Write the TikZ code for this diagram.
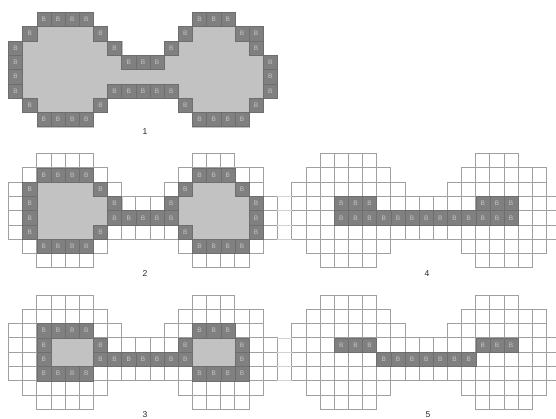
\documentclass[tikz,border=0pt]{standalone}
\usepackage{fontspec}
\setmainfont{Liberation Sans}
\definecolor{lightfill}{HTML}{C2C2C2}
\definecolor{darkfill}{HTML}{808080}
\definecolor{darkedge}{HTML}{6E6E6E}
\definecolor{gridc}{HTML}{A0A0A0}
\definecolor{btext}{HTML}{C6C6C6}
\definecolor{faintc}{HTML}{D2D2D2}
\def\cw{14.15}
\def\ch{14.3}
\def\Srows{0/2/5,0/13/15,1/1/6,1/12/17,2/0/7,2/11/17,3/0/18,4/0/18,5/0/18,6/1/6,6/12/17,7/2/5,7/13/16}
\tikzset{
  whitecell/.style={fill=white, draw=gridc, line width=0.9pt},
  grayreg/.style={fill=lightfill, draw=lightfill, line width=0.3pt},
  darkcell/.style={fill=darkfill, draw=darkedge, line width=0.5pt},
  blabel/.style={text=btext, font=\fontsize{6.5}{6.5}\selectfont, inner sep=0pt},
  panellabel/.style={font=\fontsize{8.5}{8.5}\selectfont, text=black!85, inner sep=0pt},
  faintline/.style={draw=faintc, line width=0.8pt},
}
\newcommand\regionrun[3]{%
  \foreach \r/\a/\b in {#3} {%
    \path[grayreg] ({#1+\a*\cw},{#2+\r*\ch}) rectangle ({#1+(\b+1)*\cw},{#2+(\r+1)*\ch});
  }}
\newcommand\darkrun[4]{%
  \foreach \r/\a/\b in {#3} {%
    \foreach \c in {\a,...,\b} {%
      \path[darkcell] ({#1+\c*\cw},{#2+\r*\ch}) rectangle ({#1+(\c+1)*\cw},{#2+(\r+1)*\ch});
      \node[blabel] (#4-\r-\c) at ({#1+(\c+0.5)*\cw},{#2+(\r+0.5)*\ch}) {B};
    }
  }}
\begin{document}
\begin{tikzpicture}[x=1pt,y=-1pt]
\useasboundingbox (0,0) rectangle (556,418);
\clip (0,0) rectangle (556,418);
\fill[white] (0,0) rectangle (556,418);
% white grid cells (panels 2-5)
\foreach \ox/\oy in {8.5/153.5, 8.5/295, 291.8/153.5, 291.8/295} {
  \foreach \r/\a/\b in \Srows {
    \foreach \c in {\a,...,\b} {
      \path[whitecell] ({\ox+\c*\cw},{\oy+\r*\ch}) rectangle ({\ox+(\c+1)*\cw},{\oy+(\r+1)*\ch});
    }
  }
}
% faint lines between panels
\foreach \oy in {153.5,295} {
  \foreach \k in {3,4,5,6} {
    \path[faintline] ({8.5+19*\cw},{\oy+\k*\ch}) -- ({291.8},{\oy+\k*\ch});
  }
}
% panel 1
\regionrun{8.5}{12.3}{0/2/5,0/13/15,1/1/6,1/12/17,2/0/7,2/11/17,3/0/18,4/0/18,5/0/18,6/1/6,6/12/17,7/2/5,7/13/16}
\darkrun{8.5}{12.3}{0/2/5,0/13/15,1/1/1,1/6/6,1/12/12,1/16/17,2/0/0,2/7/7,2/11/11,2/17/17,3/0/0,3/8/10,3/18/18,4/0/0,4/18/18,5/0/0,5/7/11,5/18/18,6/1/1,6/6/6,6/12/12,6/17/17,7/2/5,7/13/16}{pa}
% panel 2
\regionrun{8.5}{153.5}{1/2/5,1/13/15,2/1/6,2/12/16,3/1/7,3/11/17,4/1/17,5/1/6,5/12/17,6/2/5,6/13/16}
\darkrun{8.5}{153.5}{1/2/5,1/13/15,2/1/1,2/6/6,2/12/12,2/16/16,3/1/1,3/7/7,3/11/11,3/17/17,4/1/1,4/7/11,4/17/17,5/1/1,5/6/6,5/12/12,5/17/17,6/2/5,6/13/16}{pb}
% panel 3
\regionrun{8.5}{295}{2/2/5,2/13/15,3/2/6,3/12/16,4/2/16,5/2/5,5/13/16}
\darkrun{8.5}{295}{2/2/5,2/13/15,3/2/2,3/6/6,3/12/12,3/16/16,4/2/2,4/6/12,4/16/16,5/2/5,5/13/16}{pc}
% panel 4
\darkrun{291.8}{153.5}{3/3/5,3/13/15,4/3/15}{pd}
% panel 5
\darkrun{291.8}{295}{3/3/5,3/13/15,4/6/12}{pe}
% labels
\node[panellabel] (lab1) at (145,131.7) {1};
\node[panellabel] (lab2) at (145,273.3) {2};
\node[panellabel] (lab3) at (145,414.5) {3};
\node[panellabel] (lab4) at (427,273.3) {4};
\node[panellabel] (lab5) at (428,414.5) {5};
\end{tikzpicture}
\end{document}
